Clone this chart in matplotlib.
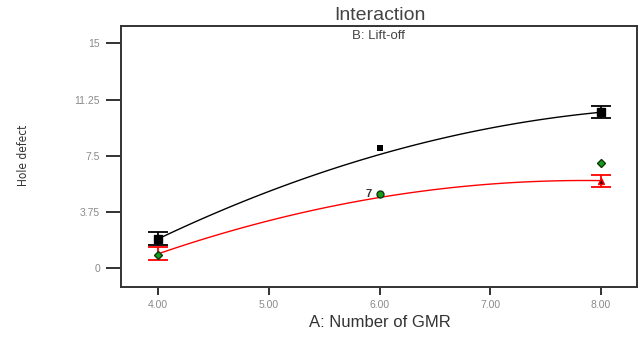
import matplotlib
matplotlib.use("Agg")
import matplotlib.pyplot as plt
import numpy as np

# predicted lines (read at A = 4..8)
a_grid = [4, 5, 6, 7, 8]
line_low = [2.0, 5.0, 7.7, 9.3, 10.4]    # black, B-
line_high = [1.0, 3.1, 4.7, 5.7, 5.8]    # red, B+

# LSD bars at the ends
bar_x = [4, 8]
bar_low = [1.97, 10.4]
bar_high = [1.0, 5.8]
bar_err = [0.43, 0.4]

# design points
sq_x = [4, 6, 8]
sq_y = [1.98, 8.0, 10.4]
tri_x = [8]
tri_y = [5.8]
dia_x = [4, 8]
dia_y = [0.91, 7.0]
circ_x = [6]
circ_y = [4.93]

xticks = [4, 5, 6, 7, 8]
xlabels = ["4.00", "5.00", "6.00", "7.00", "8.00"]
yticks = [0, 3.75, 7.5, 11.25, 15]
ylabels = ["0", "3.75", "7.5", "11.25", "15"]

plt.rcParams['font.family'] = ['Liberation Sans', 'DejaVu Sans']

fig = plt.figure(figsize=(6.4, 3.47), dpi=100)
ax = fig.add_axes([0.189, 0.173, 0.806, 0.752])

# smooth the quadratic model lines
xs = np.linspace(4, 8, 100)
p_low = np.polyfit(a_grid, line_low, 2)
p_high = np.polyfit(a_grid, line_high, 2)
ax.plot(xs, np.polyval(p_low, xs), color='black', lw=1.0)
ax.plot(xs, np.polyval(p_high, xs), color='red', lw=1.0)

ax.errorbar(bar_x, bar_low, yerr=bar_err, fmt='none', ecolor='black', elinewidth=1.3, capsize=7, capthick=1.3)
ax.errorbar(bar_x, bar_high, yerr=bar_err, fmt='none', ecolor='red', elinewidth=1.3, capsize=7, capthick=1.3)

ax.plot(sq_x[0:1] + sq_x[2:], sq_y[0:1] + sq_y[2:], 's', color='black', ms=6)
ax.plot(sq_x[1:2], sq_y[1:2], 's', color='black', ms=5, markeredgewidth=0)
ax.plot(tri_x, tri_y, '^', color='#300000', markeredgecolor='red', ms=5)
ax.plot(dia_x, dia_y, 'D', color='#1a9a1a', markeredgecolor='#0a3a0a', ms=4)
ax.plot(circ_x, circ_y, 'o', color='#1a9a1a', markeredgecolor='#0a3a0a', ms=5)
ax.text(5.93, 4.93, "7", fontsize=8, fontweight='bold', color='#333333', ha='right', va='center')

ax.set_xlim(3.663, 8.325)
ax.set_ylim(-1.25, 16.15)
ax.set_xticks(xticks)
ax.set_xticklabels(xlabels)
ax.set_yticks(yticks)
ax.set_yticklabels(ylabels)
ax.tick_params(axis='both', direction='out', length=6, width=1.3, colors='#222222',
               labelcolor='#8a8a8a', labelsize=7.5)
ax.tick_params(axis='y', length=11, pad=4)
for s in ax.spines.values():
    s.set_linewidth(1.4)
    s.set_color('#333333')

fig.text(0.594, 0.955, "Interaction", fontsize=14, color='#444444', ha='center', va='center')
ax.text(0.5, 0.985, "B: Lift-off", transform=ax.transAxes, fontsize=9.5, color='#444444',
        ha='center', va='top')
fig.text(0.594, 0.072, "A: Number of GMR", fontsize=12, color='#333333', ha='center', va='center')
fig.text(0.037, 0.553, "Hole defect", fontsize=8.5, color='#333333', rotation=90,
         ha='center', va='center', family='DejaVu Sans', fontstretch='condensed')

plt.savefig("out.png", dpi=100)
